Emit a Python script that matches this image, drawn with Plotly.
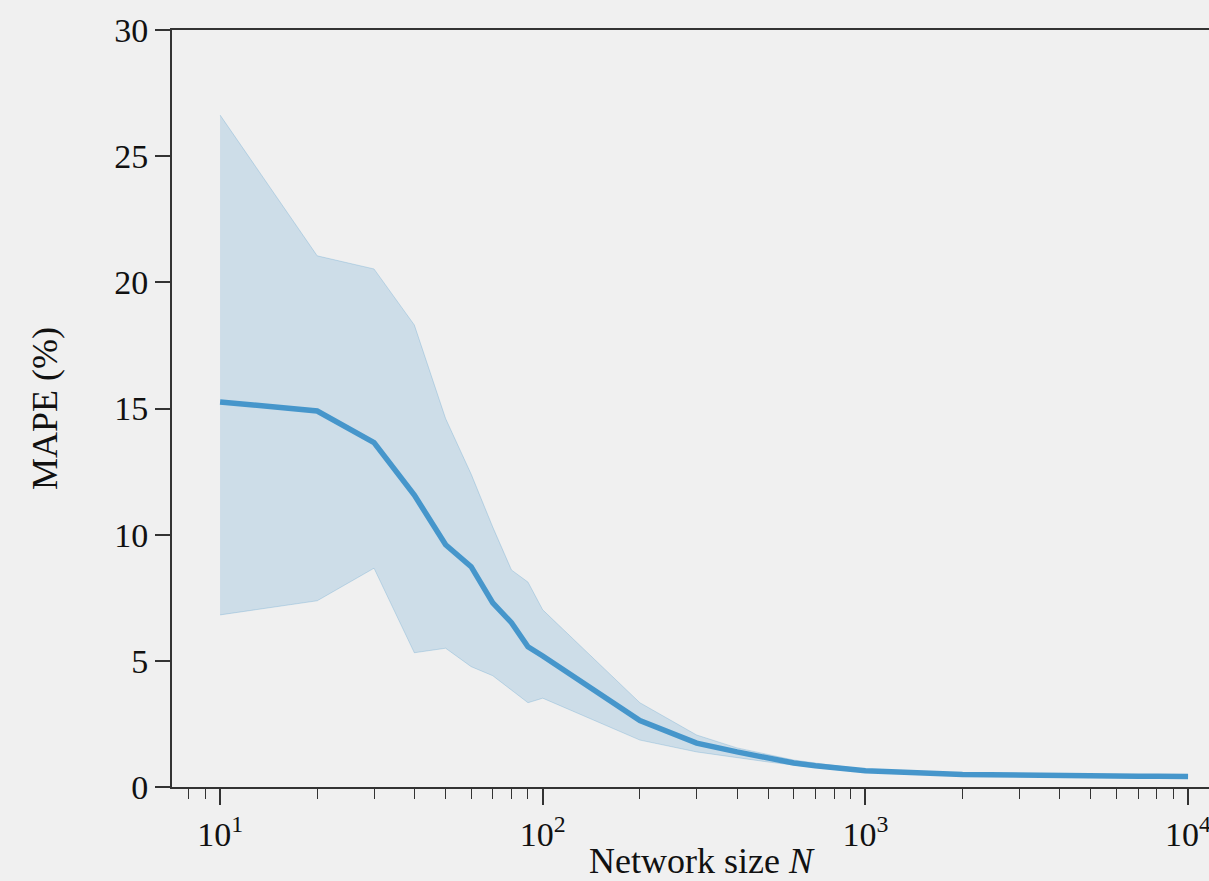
import plotly.graph_objects as go

N = [10, 20, 30, 40, 50, 60, 70, 80, 90, 100, 200, 300, 400, 500, 600, 700, 800, 900,
     1000, 2000, 3000, 4000, 5000, 6000, 7000, 8000, 9000, 10000]
mape_mean = [15.26, 14.9, 13.65, 11.57, 9.6, 8.73, 7.3, 6.51, 5.56, 5.19, 2.63, 1.74, 1.39,
             1.15, 0.95, 0.84, 0.76, 0.7, 0.64, 0.5, 0.46, 0.45, 0.44, 0.43, 0.43, 0.43, 0.42, 0.42]
mape_upper = [26.63, 21.05, 20.53, 18.31, 14.6, 12.4, 10.3, 8.6, 8.12, 7.02, 3.34, 2.06, 1.55,
              1.27, 1.07, 0.95, 0.85, 0.78, 0.69, 0.53, 0.48, 0.46, 0.45, 0.44, 0.44, 0.44, 0.43, 0.43]
mape_lower = [6.82, 7.38, 8.67, 5.32, 5.5, 4.77, 4.41, 3.84, 3.34, 3.52, 1.86, 1.39, 1.15,
              0.99, 0.87, 0.77, 0.7, 0.64, 0.6, 0.47, 0.44, 0.43, 0.42, 0.42, 0.42, 0.41, 0.41, 0.41]

x_major = [10, 100, 1000, 10000]
x_major_text = ["10<sup>1</sup>", "10<sup>2</sup>", "10<sup>3</sup>", "10<sup>4</sup>"]
x_minor = [8, 9, 20, 30, 40, 50, 60, 70, 80, 90, 200, 300, 400, 500, 600, 700, 800, 900,
           2000, 3000, 4000, 5000, 6000, 7000, 8000, 9000]
y_ticks = [0, 5, 10, 15, 20, 25, 30]

FONT = "Liberation Serif"
AXC = "#333333"

fig = go.Figure()
fig.add_trace(go.Scatter(x=N, y=mape_upper, mode="lines",
                         line=dict(color="rgba(66,146,198,0.25)", width=1),
                         showlegend=False, hoverinfo="skip"))
fig.add_trace(go.Scatter(x=N, y=mape_lower, mode="lines",
                         line=dict(color="rgba(66,146,198,0.25)", width=1),
                         fill="tonexty", fillcolor="rgba(66,146,198,0.2)",
                         showlegend=False, hoverinfo="skip"))
fig.add_trace(go.Scatter(x=N, y=mape_mean, mode="lines",
                         line=dict(color="#4696cb", width=5.5),
                         showlegend=False))

# figure is wider than the window; the right part is cropped like in the reference
fig.update_layout(
    width=1250, height=881,
    margin=dict(l=172, r=20, t=30, b=94),
    paper_bgcolor="#f0f0f0", plot_bgcolor="#f0f0f0",
    font=dict(family=FONT, size=34, color="#111111"),
)
fig.update_xaxes(
    type="log", range=[0.851, 4.13], automargin=False,
    tickvals=x_major, ticktext=x_major_text,
    ticks="outside", ticklen=16, tickwidth=1.5, tickcolor=AXC,
    minor=dict(tickvals=x_minor, ticks="outside", ticklen=10, tickwidth=1.2, tickcolor=AXC, showgrid=False),
    showline=True, linecolor=AXC, linewidth=2, mirror=True,
    showgrid=False, zeroline=False,
    title=dict(text="Network size <i>N</i>", standoff=0, font=dict(size=36)),
    tickfont=dict(size=34),
)
fig.update_yaxes(
    range=[0, 30], tickvals=y_ticks, automargin=False,
    ticks="outside", ticklen=15, tickwidth=1.5, tickcolor=AXC,
    showline=True, linecolor=AXC, linewidth=2, mirror=True,
    showgrid=False, zeroline=False,
    title=dict(text="MAPE (%)", standoff=46, font=dict(size=36)),
    tickfont=dict(size=34),
)

fig.write_html("out.html", config={"displayModeBar": False},
               post_script="document.body.style.margin='0px';document.body.style.overflow='hidden';")
